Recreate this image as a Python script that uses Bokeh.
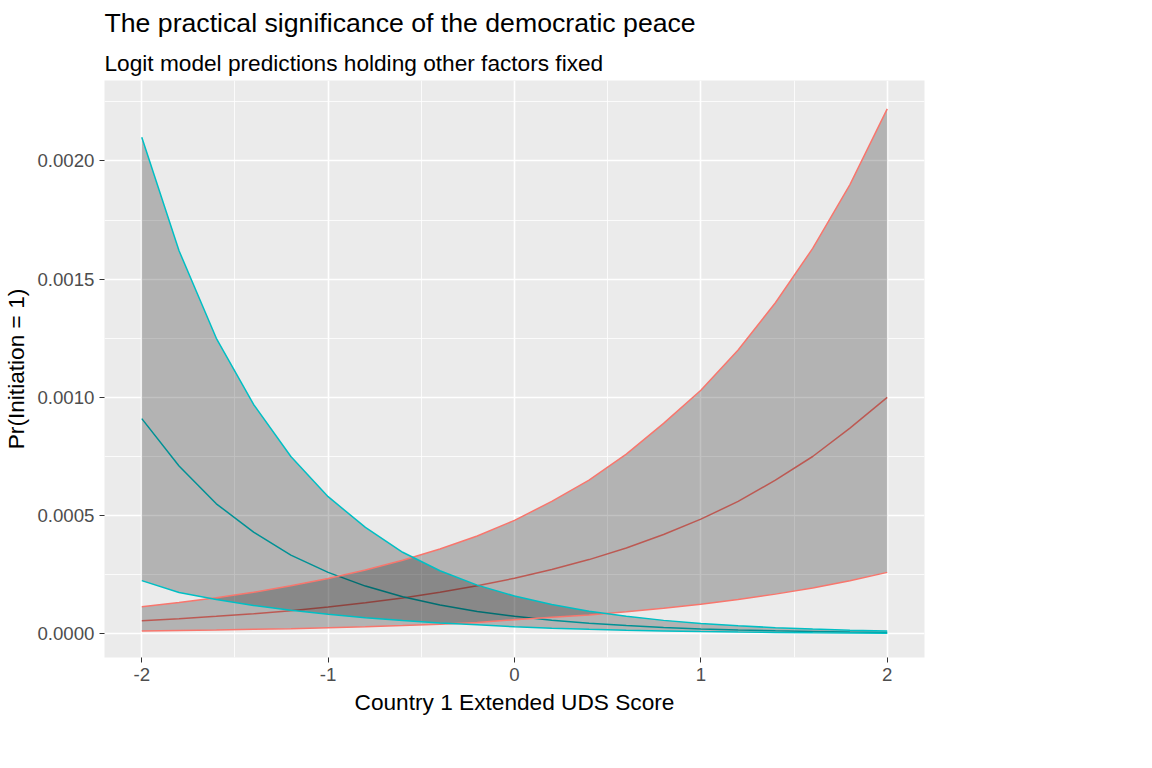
from bokeh.plotting import figure
from bokeh.models import Title, Legend, LegendItem, PrintfTickFormatter, FixedTicker, Range1d
from bokeh.embed import file_html
from bokeh.resources import INLINE

x = [-2.0,-1.8,-1.6,-1.4,-1.2,-1.0,-0.8,-0.6,-0.4,-0.2,0.0,0.2,0.4,0.6,0.8,1.0,1.2,1.4,1.6,1.8,2.0]
red_mid = [0.000055,0.000064,0.000074,0.000085,0.000098,0.000114,0.000132,0.000152,0.000176,0.000203,0.000235,0.000272,0.000314,0.000363,0.00042,0.000485,0.00056,0.00065,0.00075,0.00087,0.001]
red_hi = [0.000115,0.000133,0.000153,0.000176,0.000203,0.000234,0.00027,0.000311,0.000359,0.000414,0.00048,0.00056,0.00065,0.00076,0.00089,0.00103,0.0012,0.0014,0.00163,0.0019,0.00222]
red_lo = [0.000012,0.000014,0.000016,0.000019,0.000022,0.000026,0.00003,0.000035,0.000041,0.000048,0.00006,0.00007,0.00008,0.000093,0.000108,0.000125,0.000145,0.000168,0.000194,0.000225,0.00026]
blue_mid = [0.00091,0.00071,0.00055,0.00043,0.000333,0.00026,0.000202,0.000157,0.000122,0.000095,0.000074,0.000058,0.000045,0.000035,0.000027,0.000021,0.0000165,0.0000128,0.00001,0.0000078,0.000006]
blue_hi = [0.0021,0.00162,0.00125,0.00097,0.00075,0.00058,0.00045,0.000345,0.000267,0.000206,0.00016,0.000124,0.000096,0.000074,0.000057,0.000044,0.000034,0.000026,0.00002,0.0000155,0.000012]
blue_lo = [0.000225,0.000175,0.000145,0.00012,0.0001,0.000083,0.000068,0.000056,0.000046,0.000038,0.00003,0.000024,0.000019,0.000015,0.000012,0.0000095,0.0000075,0.000006,0.0000047,0.0000037,0.000003]
x_ticks = [-2, -1, 0, 1, 2]
y_ticks = [0.0, 0.0005, 0.0010, 0.0015, 0.0020]

RED = "#F8766D"
BLUE = "#00BFC4"
FONT = "Liberation Sans"

p = figure(frame_width=820, frame_height=577, output_backend="svg", toolbar_location=None,
           x_range=Range1d(-2.2, 2.2), y_range=Range1d(-0.0001, 0.00234),
           background_fill_color="#EBEBEB", border_fill_color="white",
           min_border_left=10, min_border_right=10, min_border_top=10, min_border_bottom=10)
p.outline_line_color = None
p.add_layout(Title(text="Logit model predictions holding other factors fixed", text_font=FONT,
                   text_font_size="17pt", text_font_style="normal", text_color="black", offset=0), "above")
p.add_layout(Title(text="The practical significance of the democratic peace", text_font=FONT,
                   text_font_size="20pt", text_font_style="normal", text_color="black"), "above")

for r in (p.xgrid[0], p.ygrid[0]):
    r.grid_line_color = "white"
    r.grid_line_width = 1.6
    r.minor_grid_line_color = "white"
    r.minor_grid_line_width = 0.8
p.xaxis.ticker = FixedTicker(ticks=x_ticks, minor_ticks=[-1.5, -0.5, 0.5, 1.5])
p.yaxis.ticker = FixedTicker(ticks=y_ticks, minor_ticks=[0.00025, 0.00075, 0.00125, 0.00175, 0.00225])
p.yaxis.formatter = PrintfTickFormatter(format="%.4f")
p.xaxis.formatter = PrintfTickFormatter(format="%d")
for ax in (p.xaxis[0], p.yaxis[0]):
    ax.axis_line_color = None
    ax.major_tick_line_color = "#333333"
    ax.minor_tick_line_color = None
    ax.major_tick_out = 5
    ax.major_tick_in = 0
    ax.major_label_text_font = FONT
    ax.major_label_text_font_size = "14pt"
    ax.major_label_text_color = "#4D4D4D"
    ax.axis_label_text_font = FONT
    ax.axis_label_text_font_size = "17pt"
    ax.axis_label_text_font_style = "normal"
    ax.axis_label_text_color = "black"
p.xaxis.axis_label = "Country 1 Extended UDS Score"
p.yaxis.axis_label = "Pr(Initiation = 1)"

p.line(x, red_mid, line_color=RED, line_width=1.5)
p.line(x, blue_mid, line_color=BLUE, line_width=1.5)
p.varea(x=x, y1=red_lo, y2=red_hi, fill_color="black", fill_alpha=0.24)
p.varea(x=x, y1=blue_lo, y2=blue_hi, fill_color="black", fill_alpha=0.24)
for ys, c in ((red_hi, RED), (red_lo, RED), (blue_hi, BLUE), (blue_lo, BLUE)):
    p.line(x, ys, line_color=c, line_width=1.5)

rk = p.scatter([-10], [-1], marker="square", size=38, fill_color="#B3B3B3", line_color=RED, line_width=1.5)
bk = p.scatter([-10], [-1], marker="square", size=38, fill_color="#B3B3B3", line_color=BLUE, line_width=1.5)
rk2 = p.line([-10, -9], [-1, -1], line_color="#A05A55", line_width=1.5)
bk2 = p.line([-10, -9], [-1, -1], line_color="#00868A", line_width=1.5)
legend = Legend(items=[LegendItem(label="-2", renderers=[rk, rk2]), LegendItem(label="2", renderers=[bk, bk2])],
                title="Country 2\nScore", title_text_font=FONT, title_text_font_size="17pt",
                title_text_font_style="normal", title_text_color="black",
                label_text_font=FONT, label_text_font_size="14pt", label_text_color="black",
                glyph_width=40, glyph_height=40,
                spacing=2, border_line_color=None, background_fill_color="white",
                location="center", padding=8, margin=30)
p.add_layout(legend, "right")

open("out.html", "w").write(file_html(p, INLINE))
